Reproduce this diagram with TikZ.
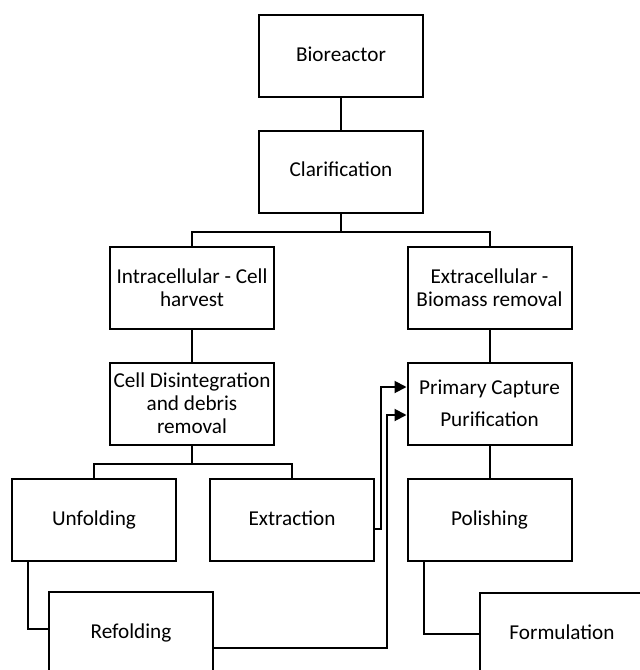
\documentclass[tikz,border=0pt]{standalone}
\usepackage{fontspec}
\setmainfont{Carlito}
\usetikzlibrary{arrows.meta}

\begin{document}
\begin{tikzpicture}[x=0.5pt, y=-0.5pt, line width=1pt,
    box/.style={draw, line width=1pt, anchor=center, align=center, inner sep=0pt,
                minimum width=82pt, minimum height=41pt, font=\fontsize{10.6}{11.6}\selectfont},
    one/.style={box, text height=1.6ex, text depth=.45ex},
    feed/.style={-{Triangle[length=6pt,width=6pt]}}]
      \useasboundingbox (0,0) rectangle (640,670);
      \node[one] (bio)   at (341, 56)    {Bioreactor};
      \node[one] (clar)  at (341, 171.5) {Clarification};
      \node[box] (intra) at (192, 288)   {Intracellular - Cell\\harvest};
      \node[box] (extra) at (489.5, 288) {Extracellular -\\Biomass removal};
      \node[box] (cdi)   at (192, 403.5) {Cell Disintegration\\and debris\\removal};
      \node[box] (pcp)   at (489.5, 403.5) {Primary Capture\\[4.5pt]Purification};
      \node[one] (unf)   at (94, 519.5)  {Unfolding};
      \node[one] (extr)  at (292, 519.5) {Extraction};
      \node[one] (pol)   at (489.5, 520) {Polishing};
      \node[one] (ref)   at (131, 633)   {Refolding};
      \node[one] (form)  at (562, 634)   {Formulation};
      \draw (bio) -- (clar);
      \draw (clar.south) -- ++(0,18) -| (intra);
      \draw (clar.south) -- ++(0,18) -| (extra);
      \draw (intra) -- (cdi);
      \draw (extra) -- (pcp);
      \draw (cdi.south) -- ++(0,18) -| (unf);
      \draw (cdi.south) -- ++(0,18) -| (extr);
      \draw (pcp) -- (pol);
      \draw ([xshift=-33pt]pol.south) |- (form.west);
      \draw ([xshift=-33pt]unf.south) |- ([yshift=2pt]ref.west);
      \draw[feed] ([yshift=-4.5pt]extr.east) -- ++(6,0) |- ([yshift=8.25pt]pcp.west);
      \draw[feed] ([yshift=-7.5pt]ref.east) -| ++(173,0) |- ([yshift=-5.75pt]pcp.west);
    \end{tikzpicture}
\end{document}
